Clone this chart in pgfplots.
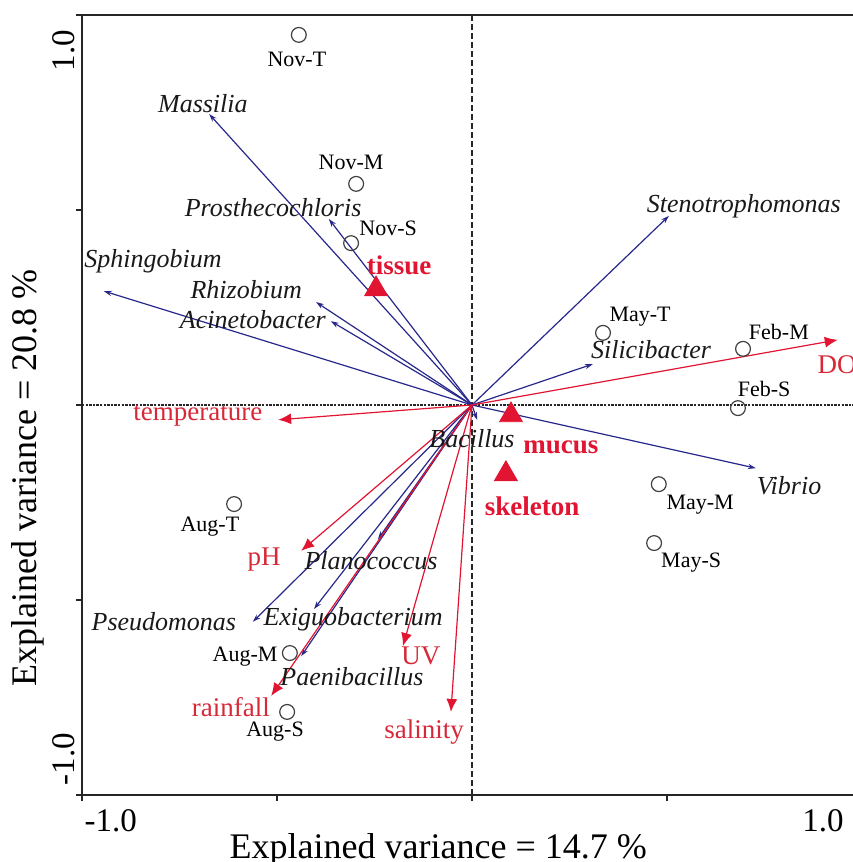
\documentclass[border=0pt]{standalone}
\usepackage{fontspec}
\setmainfont{Liberation Serif}
\usepackage{pgfplots}
\usepackage{pgfplotstable}
\pgfplotsset{compat=1.18}
\usetikzlibrary{arrows.meta}
\definecolor{navyA}{RGB}{40,40,140}
\definecolor{redA}{RGB}{225,20,50}
\definecolor{redT}{RGB}{215,40,55}
\newcommand{\sz}[1]{\fontsize{#1}{#1}\selectfont}

% species arrows (tips)
\pgfplotstableread{
u v
-0.674 0.746
-0.367 0.477
-0.944 0.292
-0.400 0.264
-0.362 0.215
0.505 0.485
0.310 0.105
0.728 -0.162
0.013 -0.038
-0.241 -0.344
-0.562 -0.556
-0.405 -0.523
-0.438 -0.644
}\species

% environmental arrows (tips): DO, temperature, pH, rainfall, UV, salinity
\pgfplotstableread{
u v
0.938 0.167
-0.497 -0.038
-0.438 -0.374
-0.515 -0.746
-0.177 -0.618
-0.054 -0.787
}\env

% centroids: tissue, mucus, skeleton
\pgfplotstableread{
x y
-0.246 0.297
0.100 -0.026
0.087 -0.177
}\cent

% sites
\pgfplotstableread{
x y
-0.444 0.949
-0.297 0.567
-0.310 0.415
0.336 0.185
0.695 0.144
0.682 -0.008
0.479 -0.203
0.467 -0.354
-0.610 -0.254
-0.467 -0.636
-0.474 -0.787
}\sites

\begin{document}
\begin{tikzpicture}
\begin{axis}[
  scale only axis, width=385.5pt, height=390pt,
  xmin=-1, xmax=0.977, ymin=-1, ymax=1,
  axis x line*=box, axis y line*=left,
  xtick pos=bottom, ytick pos=left,
  xtick={-1,-0.5,0,0.5}, ytick={-1,-0.5,0,0.5,1},
  xticklabels={}, yticklabels={},
  extra x ticks={-0.926,0.9}, extra x tick labels={-1.0,1.0},
  extra y ticks={0.908,-0.908}, extra y tick labels={1.0,-1.0},
  extra x tick style={major tick length=0pt, xticklabel style={font=\sz{16.5}, yshift=-3.5pt}},
  extra y tick style={major tick length=0pt, yticklabel style={font=\sz{16.5}, rotate=90, anchor=south}},
  tick align=outside, major tick length=3pt,
  axis line style={line width=0.6pt, black!85},
  every tick/.style={black!85, line width=0.6pt},
  xlabel={Explained variance = 14.7 \%},
  ylabel={Explained variance = 20.8 \%},
  xlabel style={font=\sz{18}, at={(axis description cs:0.462,-0.0808)}, anchor=base},
  ylabel style={font=\sz{18}, at={(axis description cs:-0.0584,0.406)}, anchor=base},
  clip=false,
]
% zero lines
\addplot[black!85, line width=0.6pt, dash pattern=on 3pt off 1.5pt] coordinates {(0,-1) (0,1)};
\addplot[black!85, line width=0.6pt, dash pattern=on 1.2pt off 0.6pt] coordinates {(-1,0) (0.977,0)};

% species arrows
\addplot[navyA, line width=0.6pt, -{Stealth[length=4pt,width=2.6pt]},
  quiver={u=\thisrow{u}, v=\thisrow{v}}] table[x expr=0, y expr=0] \species;
% environmental arrows
\addplot[redA, line width=0.6pt, -{Latex[length=6.5pt,width=5.5pt]},
  quiver={u=\thisrow{u}, v=\thisrow{v}}] table[x expr=0, y expr=0] \env;

% sites
\addplot[only marks, mark=o, mark size=3.7pt, black!75, mark options={line width=0.6pt}] table {\sites};
% centroids
\addplot[only marks, mark=triangle*, mark size=6.6pt, redA] table {\cent};

% site labels
\begin{scope}[every node/.style={font=\sz{11}, text=black}]
\node at (-0.449,0.885) {Nov-T};
\node at (-0.310,0.623) {Nov-M};
\node at (-0.215,0.454) {Nov-S};
\node at (0.431,0.226) {May-T};
\node at (0.787,0.187) {Feb-M};
\node at (0.749,0.041) {Feb-S};
\node at (0.585,-0.256) {May-M};
\node at (0.562,-0.405) {May-S};
\node at (-0.672,-0.313) {Aug-T};
\node at (-0.582,-0.646) {Aug-M};
\node at (-0.505,-0.838) {Aug-S};
\end{scope}

% species labels
\begin{scope}[every node/.style={font=\sz{13}\itshape, text=black!90}]
\node at (-0.690,0.772) {Massilia};
\node at (-0.510,0.505) {Prosthecochloris};
\node at (-0.818,0.369) {Sphingobium};
\node at (-0.579,0.295) {Rhizobium};
\node at (-0.562,0.218) {Acinetobacter};
\node at (0.697,0.510) {Stenotrophomonas};
\node at (0.459,0.141) {Silicibacter};
\node at (0.813,-0.208) {Vibrio};
\node at (0.000,-0.085) {Bacillus};
\node at (-0.259,-0.400) {Planococcus};
\node at (-0.790,-0.556) {Pseudomonas};
\node at (-0.305,-0.549) {Exiguobacterium};
\node at (-0.308,-0.697) {Paenibacillus};
\end{scope}

% environmental labels
\begin{scope}[every node/.style={font=\sz{13.5}, text=redT}]
\node at (0.936,0.103) {DO};
\node at (-0.703,-0.028) {temperature};
\node at (-0.533,-0.397) {pH};
\node at (-0.618,-0.774) {rainfall};
\node at (-0.131,-0.644) {UV};
\node at (-0.123,-0.838) {salinity};
\end{scope}

% centroid labels
\begin{scope}[every node/.style={font=\sz{13.5}\bfseries, text=redA}]
\node at (-0.187,0.359) {tissue};
\node at (0.228,-0.108) {mucus};
\node at (0.154,-0.259) {skeleton};
\end{scope}

\coordinate (SW) at (rel axis cs:0,0);
\coordinate (NE) at (rel axis cs:1,1);
\end{axis}
\pgfresetboundingbox
\path[use as bounding box] ([xshift=-41pt,yshift=-33.5pt]SW) rectangle ([yshift=7.5pt]NE);
\end{tikzpicture}
\end{document}
